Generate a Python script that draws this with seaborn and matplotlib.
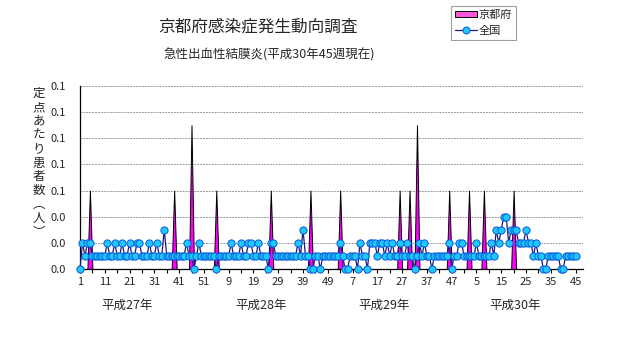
import matplotlib
matplotlib.use("Agg")
import numpy as np
import pandas as pd
import seaborn as sns
import matplotlib.pyplot as plt
from matplotlib.patches import Patch
from matplotlib.lines import Line2D

# ---------------- data ----------------
title = "京都府感染症発生動向調査"
subtitle = "急性出血性結膜炎(平成30年45週現在)"
ylabel_chars = ["定", "点", "あ", "た", "り", "患", "者", "数", "︵", "人", "︶"]
year_labels = ["平成27年", "平成28年", "平成29年", "平成30年"]
series_names = ["京都府", "全国"]

# national (全国) per-sentinel values, by week
nat_2015 = [0, .02, .01, .02, .02, .01, .01, .01, .01, .01,
            .01, .02, .01, .01, .02, .01, .01, .02, .01, .01,
            .02, .01, .01, .02, .02, .01, .01, .01, .02, .01,
            .01, .02, .01, .01, .03, .01, .01, .01, .01, .01,
            .01, .01, .01, .02, .01, .01, 0, .01, .02, .01,
            .01, .01]
nat_2016 = [.01, .01, .01, 0, .01, .01, .01, .01, .01, .02,
            .01, .01, .01, .02, .01, .01, .02, .02, .01, .01,
            .02, .01, .01, .01, 0, .02, .02, .01, .01, .01,
            .01, .01, .01, .01, .01, .01, .02, .01, .03, .01,
            .01, 0, 0, .01, .01, 0, .01, .01, .01, .01,
            .01, .01]
nat_2017 = [.01, .02, .01, 0, 0, .01, .01, .01, 0, .02,
            .01, .01, 0, .02, .02, .02, .01, .02, .02, .01,
            .02, .01, .02, .01, .01, .02, .01, .01, .02, .01,
            .01, 0, .01, .02, .01, .02, .01, .01, 0, .01,
            .01, .01, .01, .01, .01, .02, 0, .01, .01, .02,
            .02, .01]
nat_2018 = [.01, .01, .01, .01, .02, .01, .01, .01, .01, .01,
            .02, .01, .03, .02, .03, .04, .04, .02, .03, .03,
            .03, .02, .02, .02, .03, .02, .02, .01, .02, .01,
            .01, 0, 0, .01, .01, .01, .01, .01, 0, 0,
            .01, .01, .01, .01, .01]

# Kyoto (京都府) per-sentinel values, by week
kyoto_2015 = [0, 0, 0, 0, .06, 0, 0, 0, 0, 0,
              0, 0, 0, 0, 0, 0, 0, 0, 0, 0,
              0, 0, 0, 0, 0, 0, 0, 0, 0, 0,
              0, 0, 0, 0, 0, 0, 0, 0, .06, 0,
              0, 0, 0, 0, 0, .11, 0, 0, 0, 0,
              0, 0]
kyoto_2016 = [0, 0, 0, .06, 0, 0, 0, 0, 0, 0,
              0, 0, 0, 0, 0, 0, 0, 0, 0, 0,
              0, 0, 0, 0, 0, .06, 0, 0, 0, 0,
              0, 0, 0, 0, 0, 0, 0, 0, 0, 0,
              0, .06, 0, 0, 0, 0, 0, 0, 0, 0,
              0, 0]
kyoto_2017 = [0, .06, 0, 0, 0, 0, 0, 0, 0, 0,
              0, 0, 0, 0, 0, 0, 0, 0, 0, 0,
              0, 0, 0, 0, 0, .06, 0, 0, 0, .06,
              0, 0, .11, 0, 0, 0, 0, 0, 0, 0,
              0, 0, 0, 0, 0, .06, 0, 0, 0, 0,
              0, 0]
kyoto_2018 = [0, .06, 0, 0, 0, 0, 0, .06, 0, 0,
              0, 0, 0, 0, 0, 0, 0, 0, 0, .06,
              0, 0, 0, 0, 0, 0, 0, 0, 0, 0,
              0, 0, 0, 0, 0, 0, 0, 0, 0, 0,
              0, 0, 0, 0, 0]

y_ticks = [0, 0.02, 0.04, 0.06, 0.08, 0.10, 0.12, 0.14]

# ---------------- build table ----------------
nat_years = [nat_2015, nat_2016, nat_2017, nat_2018]
kyo_years = [kyoto_2015, kyoto_2016, kyoto_2017, kyoto_2018]
weeks, national, kyoto = [], [], []
for nv, kv in zip(nat_years, kyo_years):
    weeks += list(range(1, len(nv) + 1))
    national += nv
    kyoto += kv
df = pd.DataFrame({"idx": np.arange(len(weeks)), "week": weeks,
                   "national": national, "kyoto": kyoto})
N = len(df)

# ---------------- style ----------------
sns.set_theme(style="white")
plt.rcParams['font.family'] = ['Noto Sans CJK JP', 'DejaVu Sans']

W, H = 631, 347
fig = plt.figure(figsize=(W / 100, H / 100), dpi=100)
ax = fig.add_axes([80 / W, 1 - 269 / H, (583 - 80) / W, (269 - 86) / H])

mag = "#FF00FF"
line_c = "#1A1A80"
mk_face = "#1EC8FF"
mk_edge = "#0A5AD8"

ax.fill_between(df["idx"], df["kyoto"], 0, facecolor=mag, edgecolor="black",
                linewidth=0.7, zorder=2)
sns.lineplot(data=df, x="idx", y="national", ax=ax, color=line_c, linewidth=0.9,
             marker="o", markersize=5.2, markerfacecolor=mk_face,
             markeredgecolor=mk_edge, markeredgewidth=0.7, zorder=3,
             clip_on=False)

ax.set_xlim(0, 203)
ax.set_ylim(0, 0.14)
ax.set_xlabel("")
ax.set_ylabel("")

major = list(range(0, N, 10))
ax.set_xticks(major)
ax.set_xticklabels([str(df["week"][i]) for i in major], fontsize=8)
ax.set_xticks(list(range(5, N, 10)), minor=True)
ax.tick_params(axis="x", which="both", direction="out", length=3, width=0.8,
               color="black", pad=3, bottom=True)

ax.set_yticks(y_ticks)
ax.set_yticklabels([f"{v:.1f}" for v in y_ticks], fontsize=8)
ax.tick_params(axis="y", length=0, pad=10)

ax.yaxis.grid(True, linestyle=(0, (2, 1)), color="#9A9A9A", linewidth=0.7)
ax.xaxis.grid(False)
ax.set_axisbelow(True)
for s in ["top", "right"]:
    ax.spines[s].set_visible(False)
for s in ["left", "bottom"]:
    ax.spines[s].set_color("black")
    ax.spines[s].set_linewidth(0.9)

# titles
fig.text(257.5 / W, 1 - 27 / H, title, ha="center", va="center", fontsize=12)
fig.text(269.5 / W, 1 - 55 / H, subtitle, ha="center", va="center", fontsize=9)

# vertical y label
fig.text(39 / W, 1 - 163 / H, "\n".join(ylabel_chars), ha="center", va="center",
         fontsize=9, linespacing=1.09)

# year labels under the axis
year_label_x = [19.0, 73.0, 122.6, 175.4]
for xp, lab in zip(year_label_x, year_labels):
    ax.text(xp, -0.197, lab, transform=ax.get_xaxis_transform(),
            ha="center", va="center", fontsize=9)

# legend
handles = [Patch(facecolor="#FF55DD", edgecolor="black", linewidth=0.7),
           Line2D([], [], color=line_c, linewidth=0.9, marker="o", markersize=5,
                  markerfacecolor=mk_face, markeredgecolor=mk_edge,
                  markeredgewidth=0.7)]
leg = fig.legend(handles, series_names, loc="upper left",
                 bbox_to_anchor=(451 / W, 1 - 6 / H), frameon=True,
                 fancybox=False, edgecolor="#888888", fontsize=8,
                 handlelength=2.0, handleheight=0.45, handletextpad=0.15,
                 borderpad=0.35, labelspacing=0.5, borderaxespad=0)
leg.get_frame().set_linewidth(0.8)

fig.savefig("out.png", dpi=100)
